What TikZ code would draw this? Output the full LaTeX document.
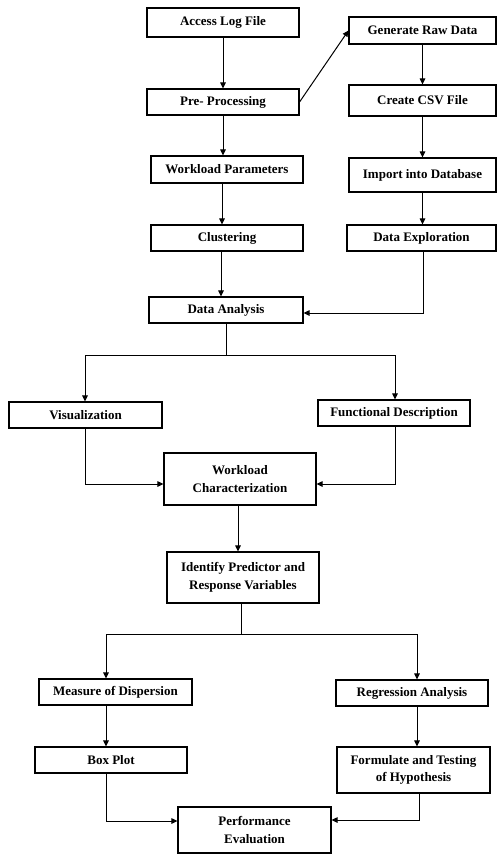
\documentclass[tikz,border=0pt]{standalone}
\usepackage{fontspec}
\setmainfont{Liberation Serif}
\usetikzlibrary{arrows.meta}
\begin{document}
\begin{tikzpicture}[x=1pt,y=-1pt,
  box/.style={draw, line width=1.1pt, inner sep=1pt, align=center,
    font=\fontsize{13}{17.5}\selectfont\bfseries},
  arr/.style={line width=1pt, -{Triangle[length=6pt,width=5.5pt]}},
  ln/.style={line width=1pt}]
\useasboundingbox (0,0) rectangle (498,855);
% boxes
\node[box, minimum width=152pt, minimum height=29pt] (acc) at (223,22.5) {Access Log File};
\node[box, minimum width=147pt, minimum height=27pt] (gen) at (422.5,30.5) {Generate Raw Data};
\node[box, minimum width=152pt, minimum height=26pt] (pre) at (223,102) {Pre- Processing};
\node[box, minimum width=147pt, minimum height=31pt] (csv) at (422.5,100.5) {Create CSV File};
\node[box, minimum width=152pt, minimum height=27pt] (wp) at (227,169.5) {Workload Parameters};
\node[box, minimum width=147pt, minimum height=34pt] (imp) at (422.5,175) {Import into Database};
\node[box, minimum width=152pt, minimum height=26pt] (clu) at (227,238) {Clustering};
\node[box, minimum width=149pt, minimum height=26pt] (exp) at (421.5,238) {Data Exploration};
\node[box, minimum width=154pt, minimum height=26pt] (da) at (226,310) {Data Analysis};
\node[box, minimum width=153pt, minimum height=26pt] (vis) at (85.5,415) {Visualization};
\node[box, minimum width=152pt, minimum height=26pt] (fd) at (394,413) {Functional Description};
\node[box, minimum width=152pt, minimum height=52pt] (wc) at (240,479) {Workload\\Characterization};
\node[box, minimum width=152pt, minimum height=51pt] (idf) at (243,577.5) {Identify Predictor and\\Response Variables};
\node[box, minimum width=153pt, minimum height=26pt] (mod) at (115.5,692) {Measure of Dispersion};
\node[box, minimum width=152pt, minimum height=26pt] (reg) at (412,693) {Regression Analysis};
\node[box, minimum width=152pt, minimum height=26pt] (bp) at (111,760) {Box Plot};
\node[box, minimum width=153pt, minimum height=46pt] (form) at (413.5,770) {Formulate and Testing\\of Hypothesis};
\node[box, minimum width=153pt, minimum height=46pt] (pe) at (254.5,830) {Performance\\Evaluation};
% bend coordinates
\coordinate (s1) at (226,355);
\coordinate (s1l) at (85,355);
\coordinate (s1r) at (395,355);
\coordinate (s2) at (241,634);
\coordinate (s2l) at (106,634);
\coordinate (s2r) at (417,634);
% connectors
\draw[arr] (acc) -- (pre);
\draw[arr] (pre.east) -- (gen.west);
\draw[arr] (gen.south) -- (gen.south |- csv.north);
\draw[arr] (csv.south) -- (csv.south |- imp.north);
\draw[arr] (imp.south) -- (imp.south |- exp.north);
\draw[arr] (pre.south) -- (pre.south |- wp.north);
\draw[arr] ([xshift=-5pt]wp.south) -- ([xshift=-5pt]wp.south |- clu.north);
\draw[arr] ([xshift=-6pt]clu.south) -- ([xshift=-6pt]clu.south |- da.north);
\draw[arr] ([xshift=1.5pt]exp.south) |- ([yshift=-3pt]da.east);
\draw[ln] (da.south) -- (s1);
\draw[ln] (s1l) -- (s1r);
\draw[arr] (s1l) -- (s1l |- vis.north);
\draw[arr] (s1r) -- (s1r |- fd.north);
\draw[arr] (vis.south) |- ([yshift=-5pt]wc.west);
\draw[arr] ([xshift=1pt]fd.south) |- ([yshift=-5pt]wc.east);
\draw[arr] ([xshift=-2pt]wc.south) -- ([xshift=-2pt]wc.south |- idf.north);
\draw[ln] (idf.south -| s2) -- (s2);
\draw[ln] (s2l) -- (s2r);
\draw[arr] (s2l) -- (s2l |- mod.north);
\draw[arr] (s2r) -- (s2r |- reg.north);
\draw[arr] ([xshift=-9.5pt]mod.south) -- ([xshift=-9.5pt]mod.south |- bp.north);
\draw[arr] ([xshift=5pt]reg.south) -- ([xshift=5pt]reg.south |- form.north);
\draw[arr] ([xshift=-5pt]bp.south) |- ([yshift=9pt]pe.west);
\draw[arr] ([xshift=5.5pt]form.south) |- ([yshift=10pt]pe.east);
\end{tikzpicture}
\end{document}
